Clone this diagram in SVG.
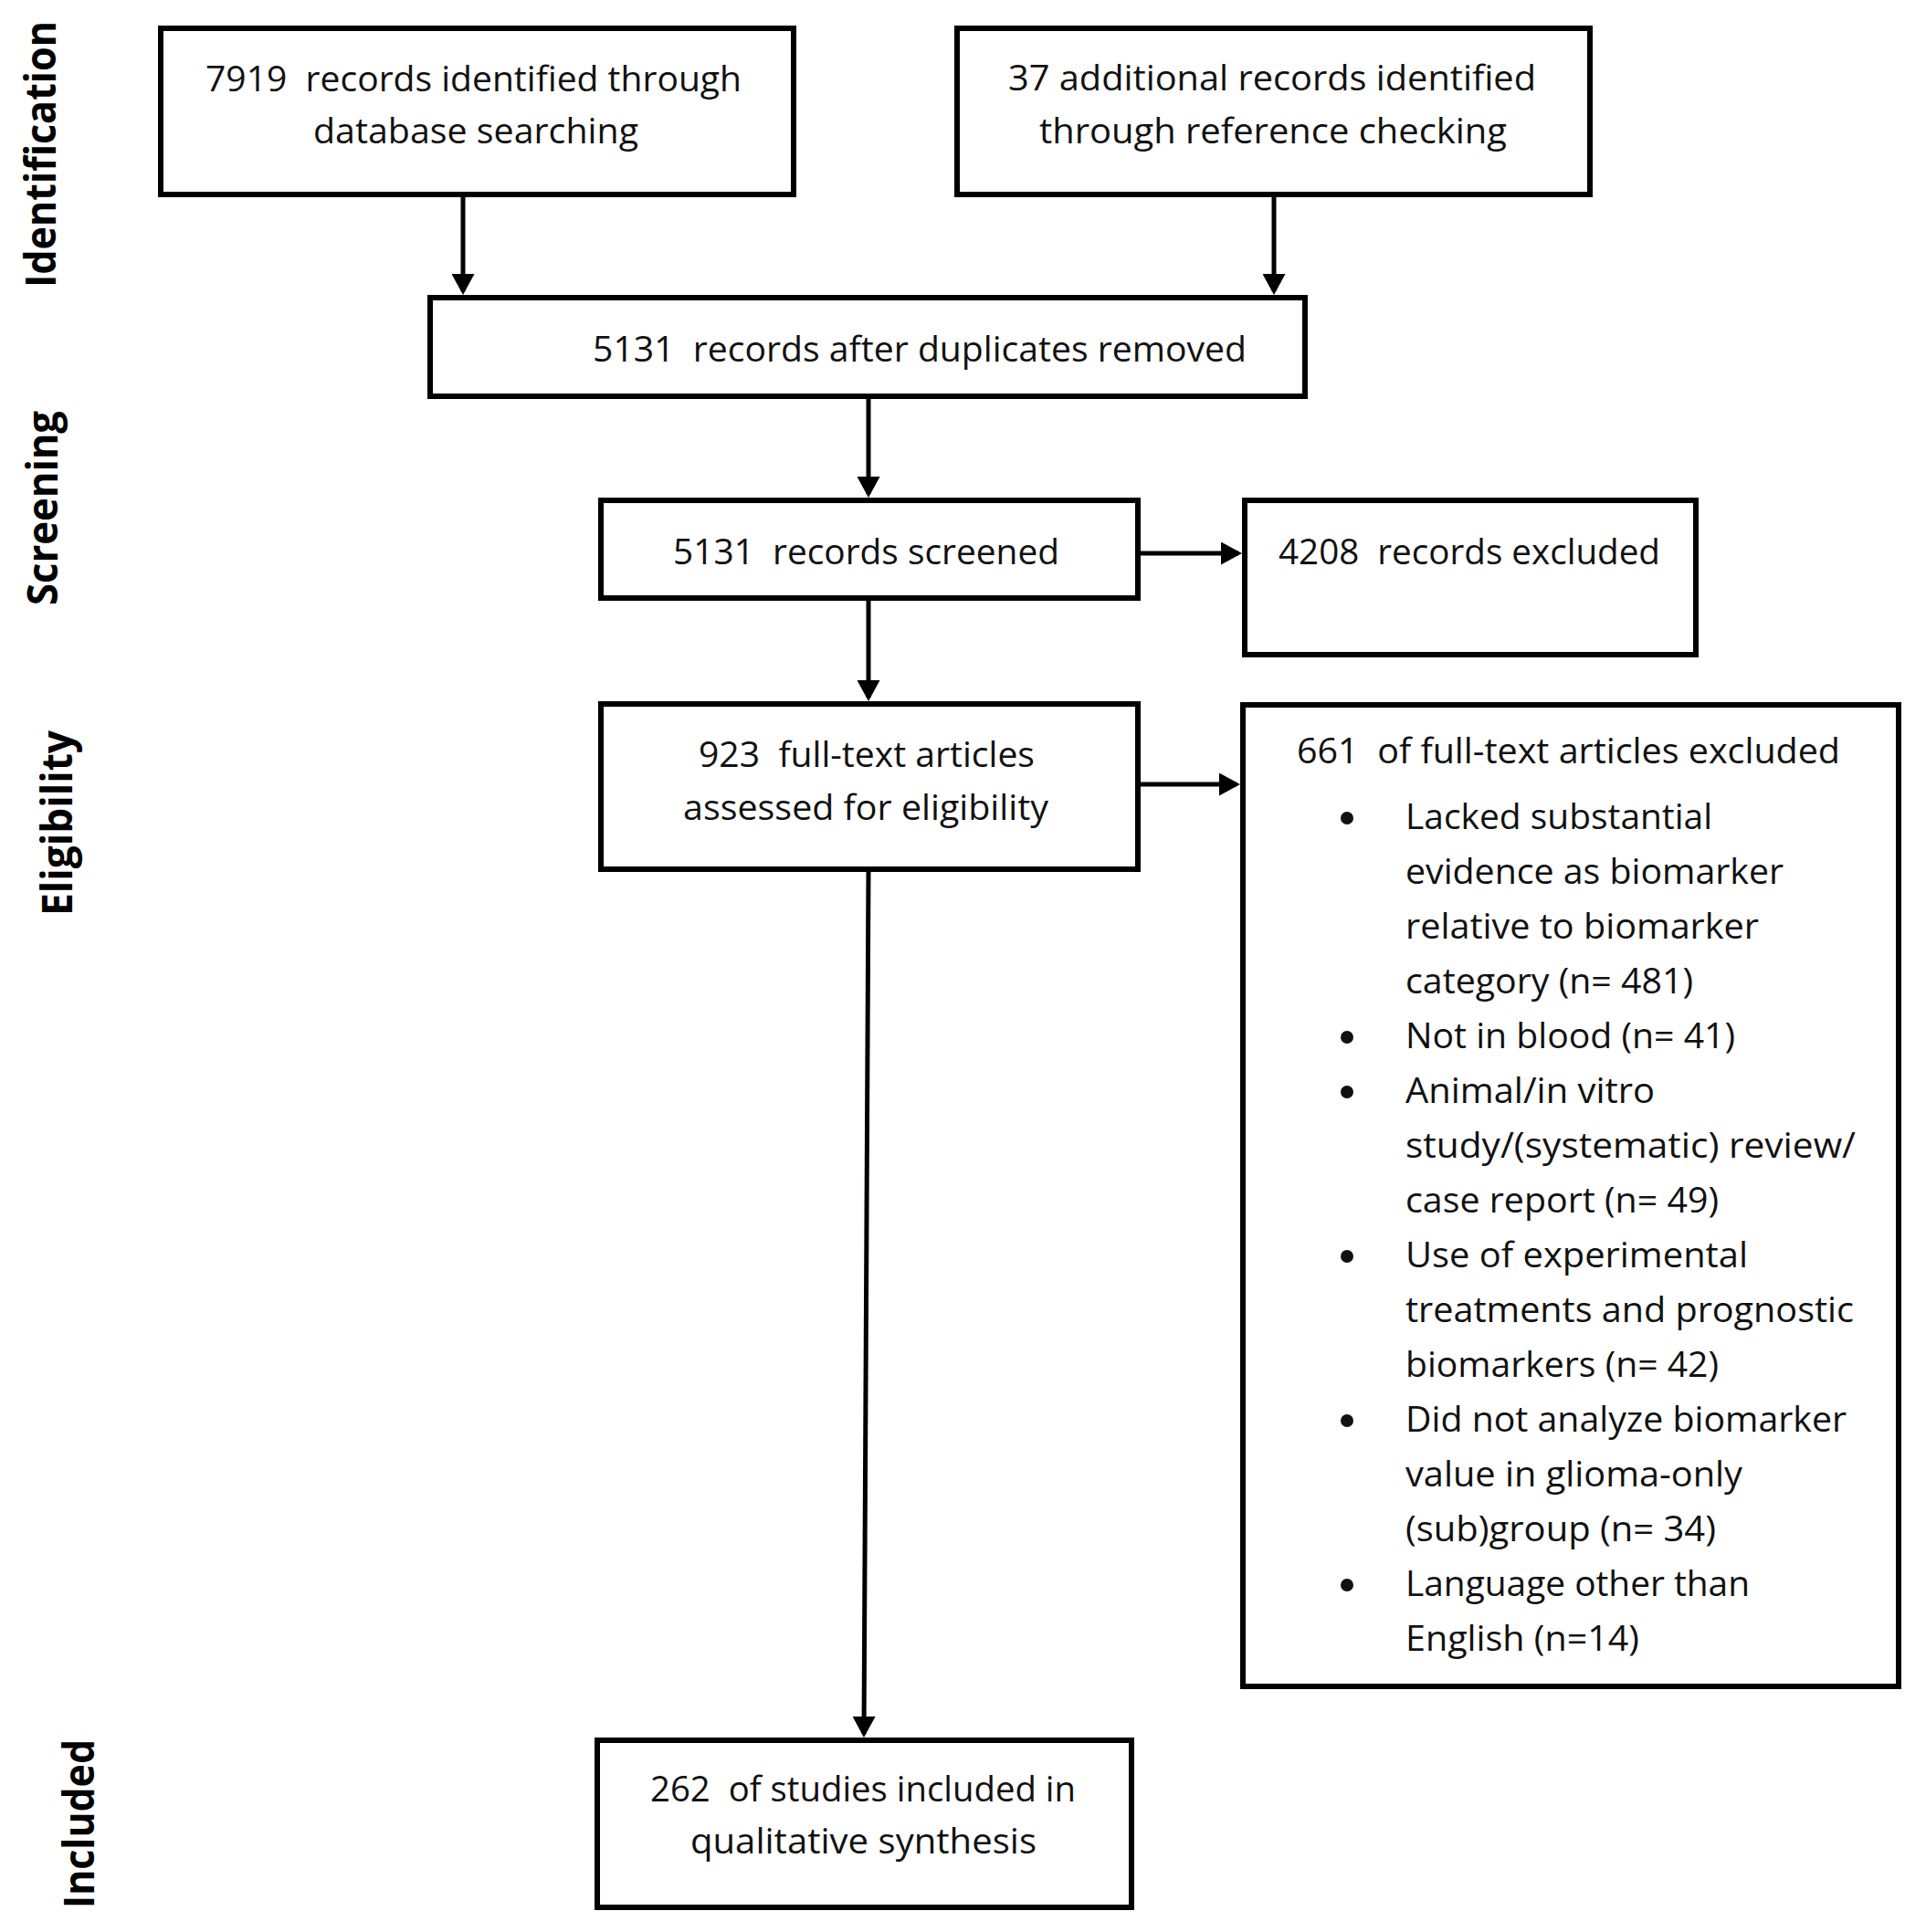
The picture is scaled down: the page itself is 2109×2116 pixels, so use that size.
<svg xmlns="http://www.w3.org/2000/svg" width="2109" height="2116" viewBox="0 0 2109 2116">
<style>
.box{fill:#fff;stroke:#000;stroke-width:6}
.t{font-family:"Open Sans","Liberation Sans",sans-serif;font-size:38px;fill:#111}
.lab{font-family:"Open Sans","DejaVu Sans",sans-serif;font-weight:bold;font-size:46px;fill:#000;text-anchor:middle}
.con{stroke:#000;stroke-width:5;fill:none;marker-end:url(#ah)}
.bul{fill:#111}
</style>
<defs>
<marker id="ah" markerUnits="userSpaceOnUse" viewBox="0 0 23 25" refX="19" refY="12.5" markerWidth="23" markerHeight="25" orient="auto">
<path d="M0,0 L23,12.5 L0,25 z" fill="#000"/>
</marker>
</defs>
<rect width="2109" height="2116" fill="#fff"/>
<g id="labels">
<text class="lab" transform="translate(61,169) rotate(-90)" textLength="292" lengthAdjust="spacingAndGlyphs">Identification</text>
<text class="lab" transform="translate(63,556.5) rotate(-90)" textLength="213" lengthAdjust="spacingAndGlyphs">Screening</text>
<text class="lab" transform="translate(79,901.5) rotate(-90)" textLength="203" lengthAdjust="spacingAndGlyphs">Eligibility</text>
<text class="lab" transform="translate(103,1997.5) rotate(-90)" textLength="185" lengthAdjust="spacingAndGlyphs">Included</text>
</g>
<g id="connectors">
<line class="con" x1="507" y1="213" x2="507" y2="319"/>
<line class="con" x1="1395" y1="213" x2="1395" y2="319"/>
<line class="con" x1="951" y1="434" x2="951" y2="541"/>
<line class="con" x1="1246" y1="606" x2="1356" y2="606"/>
<line class="con" x1="951" y1="655" x2="951" y2="764"/>
<line class="con" x1="1246" y1="859" x2="1354" y2="859"/>
<line class="con" x1="951" y1="952" x2="946" y2="1899"/>
</g>
<g id="n1">
<rect class="box" x="176" y="31" width="693" height="182"/>
<text class="t" x="225" y="100" textLength="587" lengthAdjust="spacingAndGlyphs" xml:space="preserve">7919  records identified through</text>
<text class="t" x="343" y="157" textLength="356" lengthAdjust="spacingAndGlyphs">database searching</text>
</g>
<g id="n2">
<rect class="box" x="1048" y="31" width="693" height="182"/>
<text class="t" x="1104" y="99" textLength="578" lengthAdjust="spacingAndGlyphs">37 additional records identified</text>
<text class="t" x="1138" y="157" textLength="512" lengthAdjust="spacingAndGlyphs">through reference checking</text>
</g>
<g id="n3">
<rect class="box" x="471" y="326" width="958" height="108"/>
<text class="t" x="649" y="396" textLength="716" lengthAdjust="spacingAndGlyphs" xml:space="preserve">5131  records after duplicates removed</text>
</g>
<g id="n4">
<rect class="box" x="658" y="548" width="588" height="107"/>
<text class="t" x="737" y="618" textLength="423" lengthAdjust="spacingAndGlyphs" xml:space="preserve">5131  records screened</text>
</g>
<g id="n5">
<rect class="box" x="1363" y="548" width="494" height="169"/>
<text class="t" x="1400" y="618" textLength="418" lengthAdjust="spacingAndGlyphs" xml:space="preserve">4208  records excluded</text>
</g>
<g id="n6">
<rect class="box" x="658" y="771" width="588" height="181"/>
<text class="t" x="765" y="840" textLength="368" lengthAdjust="spacingAndGlyphs" xml:space="preserve">923  full-text articles</text>
<text class="t" x="748" y="898" textLength="400" lengthAdjust="spacingAndGlyphs">assessed for eligibility</text>
</g>
<g id="n7">
<rect class="box" x="1361" y="772" width="718" height="1075"/>
<text class="t" x="1420" y="836" textLength="595" lengthAdjust="spacingAndGlyphs" xml:space="preserve">661  of full-text articles excluded</text>
<circle class="bul" cx="1475" cy="896" r="7"/>
<circle class="bul" cx="1475" cy="1136" r="7"/>
<circle class="bul" cx="1475" cy="1196" r="7"/>
<circle class="bul" cx="1475" cy="1376" r="7"/>
<circle class="bul" cx="1475" cy="1556" r="7"/>
<circle class="bul" cx="1475" cy="1736" r="7"/>
<text class="t" x="1539" y="908" textLength="336" lengthAdjust="spacingAndGlyphs">Lacked substantial</text>
<text class="t" x="1539" y="968" textLength="414" lengthAdjust="spacingAndGlyphs">evidence as biomarker</text>
<text class="t" x="1539" y="1028" textLength="387" lengthAdjust="spacingAndGlyphs">relative to biomarker</text>
<text class="t" x="1539" y="1088" textLength="315" lengthAdjust="spacingAndGlyphs">category (n= 481)</text>
<text class="t" x="1539" y="1148" textLength="361" lengthAdjust="spacingAndGlyphs">Not in blood (n= 41)</text>
<text class="t" x="1539" y="1208" textLength="273" lengthAdjust="spacingAndGlyphs">Animal/in vitro</text>
<text class="t" x="1539" y="1268" textLength="493" lengthAdjust="spacingAndGlyphs">study/(systematic) review/</text>
<text class="t" x="1539" y="1328" textLength="343" lengthAdjust="spacingAndGlyphs">case report (n= 49)</text>
<text class="t" x="1539" y="1388" textLength="375" lengthAdjust="spacingAndGlyphs">Use of experimental</text>
<text class="t" x="1539" y="1448" textLength="491" lengthAdjust="spacingAndGlyphs">treatments and prognostic</text>
<text class="t" x="1539" y="1508" textLength="343" lengthAdjust="spacingAndGlyphs">biomarkers (n= 42)</text>
<text class="t" x="1539" y="1568" textLength="483" lengthAdjust="spacingAndGlyphs">Did not analyze biomarker</text>
<text class="t" x="1539" y="1628" textLength="369" lengthAdjust="spacingAndGlyphs">value in glioma-only</text>
<text class="t" x="1539" y="1688" textLength="340" lengthAdjust="spacingAndGlyphs">(sub)group (n= 34)</text>
<text class="t" x="1539" y="1748" textLength="377" lengthAdjust="spacingAndGlyphs">Language other than</text>
<text class="t" x="1539" y="1808" textLength="256" lengthAdjust="spacingAndGlyphs">English (n=14)</text>
</g>
<g id="n8">
<rect class="box" x="654" y="1906" width="585" height="183"/>
<text class="t" x="712" y="1973" textLength="466" lengthAdjust="spacingAndGlyphs" xml:space="preserve">262  of studies included in</text>
<text class="t" x="756" y="2030" textLength="379" lengthAdjust="spacingAndGlyphs">qualitative synthesis</text>
</g>
</svg>
